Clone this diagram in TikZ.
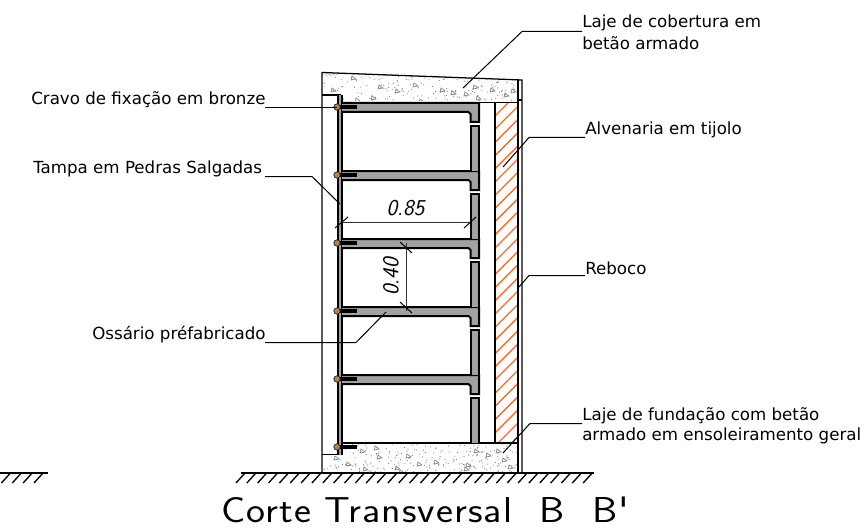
\documentclass[tikz,border=0pt]{standalone}
\usepackage{fontspec}
\setmainfont{DejaVu Sans}
\newfontfamily\titlefont[FakeStretch=1.12,LetterSpace=3]{lmsans17-regular.otf}
\newfontfamily\dimfont{lmsans17-oblique.otf}
\usetikzlibrary{calc}
\definecolor{shelfgrey}{HTML}{A2A2A2}
\definecolor{hatchorange}{HTML}{FF6A2A}
\definecolor{screwbrown}{HTML}{B5824A}
\definecolor{aggregate}{HTML}{808080}
\tikzset{
  px/.style={x=0.75pt,y=-0.75pt},
  wall/.style={draw=black,line width=1pt},
  thinwall/.style={draw=black,line width=0.95pt},
  shelf/.style={draw=black,line width=1.5pt,fill=shelfgrey,line join=miter},
  leader/.style={draw=black,line width=0.75pt},
  dimline/.style={draw=black!80,line width=0.7pt},
  label/.style={font=\fontsize{12.5pt}{14pt}\selectfont,inner sep=0pt,anchor=base west,align=left},
  dimtext/.style={font=\dimfont\fontsize{17pt}{17pt}\selectfont,inner sep=0pt},
  ground/.style={draw=black,line width=1.5pt},
  groundhatch/.style={draw=black,line width=1pt},
  speck/.style={fill=aggregate,draw=none},
  pebble/.style={draw=aggregate,line width=0.5pt}
}
\begin{document}
\begin{tikzpicture}[px]
\useasboundingbox (0,0) rectangle (866,531);
% concrete texture
\pgfmathsetseed{4711}
\begin{scope}
\clip (323,73) -- (517,81) -- (517,101) -- (342,101) -- (342,94) -- (323,94) -- cycle;
\foreach \i in {1,...,190}{
  \pgfmathsetmacro{\xa}{323+rnd*195}\pgfmathsetmacro{\ya}{73+rnd*28}
  \fill[speck] (\xa,\ya) circle (0.6);
}
\foreach \a/\b in {352/76,379/85,396/89,414/83,420/99,441/88,452/91,465/92,474/85,477/96,491/88,512/89,505/93,332/88,356/98,372/96}{
  \draw[pebble] (\a,\b) -- ++(4,3) -- ++(-5,1) -- cycle;
}
\end{scope}
\begin{scope}
\clip (343,444) -- (517,444) -- (517,472) -- (323,472) -- (323,456) -- (343,456) -- cycle;
\foreach \i in {1,...,230}{
  \pgfmathsetmacro{\xa}{323+rnd*195}\pgfmathsetmacro{\ya}{444+rnd*28}
  \fill[speck] (\xa,\ya) circle (0.6);
}
\foreach \a/\b in {361/449,375/446,378/455,347/462,335/456,418/462,407/454,400/470,364/467,396/466,467/463,497/449,475/449,487/453,503/458,509/465,465/467,435/460}{
  \draw[pebble] (\a,\b) -- ++(4,3) -- ++(-5,1) -- cycle;
}
\end{scope}
% masonry hatching
\begin{scope}
\clip (495.5,103) rectangle (517,443);
\foreach \k in {0,...,27}{
  \draw[hatchorange,line width=1pt] (494,{117+\k*13.2}) -- ++(26,-26);
}
\end{scope}
% outer outline
\draw[thinwall] (322,472) -- (322,72.5) -- (522,80) -- (522,472);
\draw[thinwall] (522,100) -- (517.5,100);
\draw[wall] (518,80) -- (518,472);
\draw[wall] (342,102.5) -- (518,102.5);
\draw[wall] (342,443) -- (518,443);
\draw[wall] (495,103) -- (495,443);
\draw[thinwall] (322,95) -- (341,95);
\draw[thinwall] (322,454.5) -- (341,454.5);
% front stone cover
\fill[shelfgrey] (338,95) rectangle (342,455);
\draw[wall] (338,95) -- (338,455);
\draw[wall] (342,95) -- (342,455);
% shelves and back panels
\foreach \t in {103,171,239,307,375}{
  \draw[shelf] (342,\t) -- (479,\t) -- (479,{\t+19}) -- (470.5,{\t+19}) -- (470.5,{\t+11}) -- (468.5,{\t+9}) -- (342,{\t+9});
}
\foreach \t in {126,194,262,330,398}{
  \draw[shelf] (470.5,{\t+45}) -- (470.5,\t) -- (479,\t) -- (479,{\t+45});
}
% screws
\foreach \y in {107,175,243,311,379,447}{
  \draw[black,line width=2.4pt] (340,\y) -- (357,\y);
  \filldraw[fill=screwbrown,draw=black!80,line width=0.6pt] (337,\y) circle (3.2);
}
% dimensions
\coordinate (dL) at (342,222.5); \coordinate (dR) at (470,222.5);
\coordinate (dT) at (406.5,243); \coordinate (dB) at (406.5,311);
\draw[dimline] (dL) -- (dR);
\draw[dimline] (dT) -- (dB);
\draw[leader] (335,228) -- (348,217);
\draw[leader] (464,228) -- (476,217);
\draw[leader] (400,242) -- (412,253);
\draw[leader] (400,302) -- (412,313);
\node[dimtext] (d85) at (405.5,208) {0.85};
\node[dimtext,rotate=90] (d40) at (391,277) {0.40};
% labels
\node[label] (l1) at (582,28) {Laje de cobertura em};
\node[label] (l1b) at (582,50) {betão armado};
\node[label] (l2) at (31,105) {Cravo de fixação em bronze};
\node[label] (l3) at (33,173) {Tampa em Pedras Salgadas};
\node[label] (l4) at (92,339) {Ossário préfabricado};
\node[label] (l5) at (585,135) {Alvenaria em tijolo};
\node[label] (l6) at (585,274) {Reboco};
\node[label] (l7) at (582,420) {Laje de fundação com betão};
\node[label] (l8) at (582,440) {armado em ensoleiramento geral};
% leaders
\coordinate (a1) at (463,88); \coordinate (a2) at (337,107.5); \coordinate (a3) at (340,204);
\coordinate (a5) at (503,167); \coordinate (a6) at (519,287);
\coordinate (a7) at (503,453); \coordinate (a4) at (386,312);
\draw[leader] (582,31.5) -- (522,31.5) -- (a1);
\draw[leader] (265,107.5) -- (a2);
\draw[leader] (265,176.5) -- (312,176.5) -- (a3);
\draw[leader] (265,342.5) -- (356,342.5) -- (a4);
\draw[leader] (585,137.5) -- (529,137.5) -- (a5);
\draw[leader] (585,275.5) -- (529,275.5) -- (a6);
\draw[leader] (582,423.5) -- (530,423.5) -- (a7);
% ground
\draw[ground] (241,473) -- (594,473);
\draw[ground] (0,473) -- (48,473);
\foreach \x in {0,...,32}{
  \draw[groundhatch] ({245+\x*10.85},473) -- ++(-9,10);
}
\foreach \x in {0,...,4}{
  \draw[groundhatch] ({43-\x*10.85},473) -- ++(-9,10);
}
% title
\node[font=\fontsize{27pt}{27pt}\selectfont,inner sep=0pt,anchor=base] (title) at (425,522) {\titlefont Corte Transversal\ \ B\ \ B'};
\end{tikzpicture}
\end{document}
